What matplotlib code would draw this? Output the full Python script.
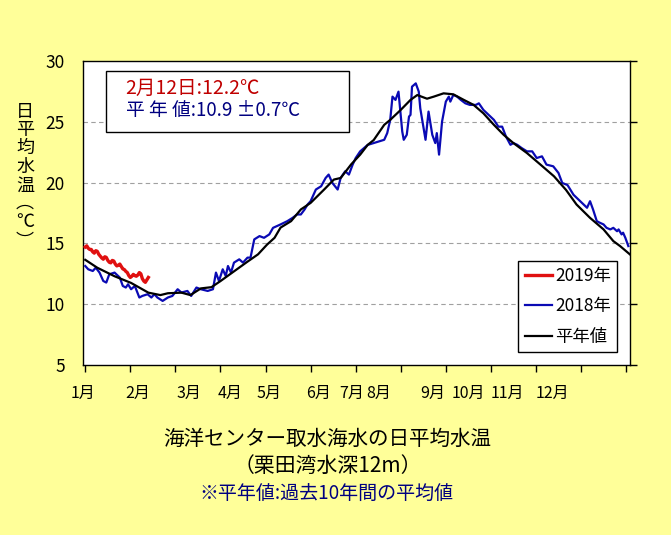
import matplotlib
matplotlib.use("Agg")
import matplotlib.pyplot as plt
from matplotlib.patches import Rectangle

plt.rcParams['font.family'] = ['Noto Sans CJK JP', 'DejaVu Sans']

# ---------------- data ----------------
# 2019 daily values, Jan 1 .. Feb 12 (day index 0..42)
red_2019 = [14.7, 14.8, 14.6, 14.5, 14.5, 14.3, 14.2, 14.4, 14.35, 14.1,
            13.95, 13.8, 13.7, 13.9, 13.85, 13.6, 13.45, 13.4, 13.6, 13.55,
            13.3, 13.15, 13.2, 13.3, 13.1, 12.9, 12.85, 12.7, 12.6, 12.35,
            12.2, 12.3, 12.45, 12.35, 12.3, 12.4, 12.6, 12.5, 12.1, 11.9,
            11.8, 12.0, 12.2]
red_days = list(range(len(red_2019)))

blue_days = [0, 2, 5, 7, 9.5, 12, 14, 16, 19.5, 23, 25, 27, 28.5, 30.5, 33, 36, 38,
             41.5, 44, 46, 48, 51.5, 55, 58, 61.5, 64, 68, 70.5, 74, 77, 81.5, 85,
             87, 89, 91.5, 93.5, 95, 97, 99, 102.5, 105, 108, 110, 112.5, 116, 119,
             122.5, 125, 130, 134.5, 138, 141, 143.5, 146, 148, 150, 153.5, 157, 160,
             162, 164.5, 168, 170, 173, 175.5, 178, 180, 183, 188, 192, 199, 201, 203,
             204.5, 206.5, 208.5, 211, 212, 214, 215.5, 216.5, 217.5, 220, 222, 223,
             225, 226.5, 228.5, 231, 233, 234, 235.5, 237.5, 240, 242, 243, 245,
             247.5, 250, 253, 256, 260, 262, 265, 268.5, 272, 275, 277.5, 280, 283,
             285, 287.5, 290.5, 294, 297.5, 300.5, 304, 307, 311.5, 315, 317.5, 321,
             325, 329.5, 334, 336, 338, 340.5, 342.5, 345, 347, 349.5, 351.5, 354,
             355, 357, 358, 359.5, 361.5]
blue_2018 = [13.14, 12.87, 12.73, 13.0, 12.6, 11.91, 11.78, 12.46, 12.6, 12.19, 11.5,
             11.37, 11.64, 11.23, 11.5, 10.55, 10.68, 10.82, 10.55, 10.82, 10.55,
             10.27, 10.55, 10.68, 11.23, 10.96, 11.09, 10.68, 11.37, 11.23, 11.09,
             11.23, 12.6, 11.91, 12.87, 12.32, 13.14, 12.6, 13.42, 13.69, 13.42,
             13.83, 13.83, 15.33, 15.6, 15.46, 15.74, 16.28, 16.56, 16.83, 17.1,
             17.38, 17.38, 17.79, 18.2, 18.47, 19.43, 19.7, 20.38, 20.66, 19.97,
             19.43, 20.38, 20.93, 20.66, 21.48, 22.02, 22.57, 23.1, 23.25, 23.52,
             24.07, 25.16, 27.07, 26.8, 27.48, 24.2, 23.52, 23.93, 25.43, 25.57,
             27.89, 28.16, 27.48, 26.11, 24.6, 23.52, 25.84, 23.93, 23.25, 24.07,
             22.3, 25.02, 26.66, 27.07, 26.66, 27.21, 27.07, 26.8, 26.52, 26.39,
             26.39, 26.52, 25.98, 25.57, 25.16, 24.6, 24.6, 23.8, 23.11, 23.25,
             23.11, 22.84, 22.57, 22.57, 22.02, 22.16, 21.48, 21.34, 20.79, 19.97,
             19.8, 19.0, 18.47, 17.93, 18.47, 17.79, 16.83, 16.7, 16.56, 16.28,
             16.15, 16.28, 16.0, 16.15, 15.74, 15.88, 15.46, 14.78]

norm_days = [0, 8, 19.5, 30.5, 42, 50, 55, 64, 70, 77, 84, 90, 99, 108, 115, 121,
             126, 130, 137, 143.5, 150, 159, 165.5, 170, 177, 183, 188, 192, 199,
             203, 210, 216.5, 221, 227.5, 232, 238.5, 245, 252, 258.5, 265, 272,
             278.5, 285, 294, 303, 312, 320, 327, 336, 345, 351.5, 356, 362.5]
norm_vals = [13.65, 13.0, 12.3, 11.75, 10.95, 10.75, 10.9, 10.95, 10.75, 11.3, 11.4,
             11.9, 12.7, 13.5, 14.1, 14.9, 15.46, 16.3, 16.83, 17.79, 18.33, 19.43,
             20.25, 20.38, 21.5, 22.3, 23.1, 23.5, 24.75, 25.16, 25.98, 26.8, 27.2,
             26.9, 27.07, 27.34, 27.26, 26.8, 26.39, 25.7, 24.75, 23.93, 23.25,
             22.43, 21.48, 20.52, 19.4, 18.2, 17.1, 16.15, 15.19, 14.78, 14.1]

series_labels = ['2019年', '2018年', '平年値']
month_labels = ['1月', '2月', '3月', '4月', '5月', '6月', '7月', '8月', '9月',
                '10月', '11月', '12月']
month_label_pos = [-1.5, 35, 69, 96.3, 122.2, 155.4, 177.3, 195.3, 231.1, 255, 281, 310.8]
y_ticks = [5, 10, 15, 20, 25, 30]
info_line1 = '2月12日:12.2℃'
info_line2 = '平 年 値:10.9 ±0.7℃'

# ---------------- figure ----------------
W, H = 671, 535
fig = plt.figure(figsize=(W / 100, H / 100), dpi=100, facecolor='#FFFF99')
ax = fig.add_axes([83 / W, 1 - 365 / H, 547 / W, 304 / H])
ax.set_facecolor('white')

ax.plot(blue_days, blue_2018, color='#0A0AB4', lw=1.6, zorder=3, label=series_labels[1])
ax.plot(norm_days, norm_vals, color='black', lw=1.6, zorder=4, label=series_labels[2])
ax.plot(red_days, red_2019, color='#E01010', lw=2.4, zorder=5, label=series_labels[0])

ax.set_xlim(-0.6, 362.6)
ax.set_ylim(5, 30)

ax.set_yticks(y_ticks)
ax.set_yticklabels([str(v) for v in y_ticks], fontsize=12.5)
ax.tick_params(axis='y', left=False, right=True, direction='out', length=5,
               width=1, pad=8, labelleft=True)
for v in y_ticks[1:-1]:
    ax.axhline(v, color='#A0A0A0', lw=0.8, ls=(0, (4, 3)), zorder=1)

ax.set_xticks([30 * k for k in range(13)])
ax.set_xticklabels([])
ax.tick_params(axis='x', which='major', direction='out', length=5, width=1)
ax.set_xticks(month_label_pos, minor=True)
ax.set_xticklabels(month_labels, minor=True, fontsize=11.5)
ax.tick_params(axis='x', which='minor', length=0, pad=14)

for s in ax.spines.values():
    s.set_color('black')
    s.set_linewidth(1)

# legend
h, l = ax.get_legend_handles_labels()
order = [2, 0, 1]
leg = ax.legend([h[i] for i in order], [l[i] for i in order], loc='lower right',
                bbox_to_anchor=(0.976, 0.043), borderaxespad=0, fontsize=12.5,
                fancybox=False, framealpha=1, edgecolor='black',
                handlelength=1.6, handletextpad=0.15, labelspacing=0.72,
                borderpad=0.35)
leg.get_frame().set_linewidth(1)
leg.set_zorder(10)

# info box
ax.add_patch(Rectangle((0.042, 0.766), 0.444, 0.201, transform=ax.transAxes,
                       facecolor='white', edgecolor='black', lw=1, zorder=8))
ax.text(0.078, 0.911, info_line1, transform=ax.transAxes, color='#C00000',
        fontsize=14, va='center', ha='left', zorder=9)
ax.text(0.078, 0.836, info_line2, transform=ax.transAxes, color='#000080',
        fontsize=13.5, va='center', ha='left', zorder=9)

# vertical y label
ylab = '日平均水温︵℃︶'
ypos = [112, 130, 148, 167, 186, 203, 222, 242]
for ch, yp in zip(ylab, ypos):
    fig.text(25 / W, 1 - yp / H, ch, fontsize=13, ha='center', va='center')

# bottom titles
fig.text(327 / W, 1 - 439 / H, '海洋センター取水海水の日平均水温', fontsize=14.8,
         ha='center', va='center', color='black')
fig.text(328 / W, 1 - 466 / H, '（栗田湾水深12m）', fontsize=15,
         ha='center', va='center', color='black')
fig.text(326 / W, 1 - 494 / H, '※平年値:過去10年間の平均値', fontsize=13.7,
         ha='center', va='center', color='#000080')

fig.savefig('out.png', dpi=100, facecolor=fig.get_facecolor())
